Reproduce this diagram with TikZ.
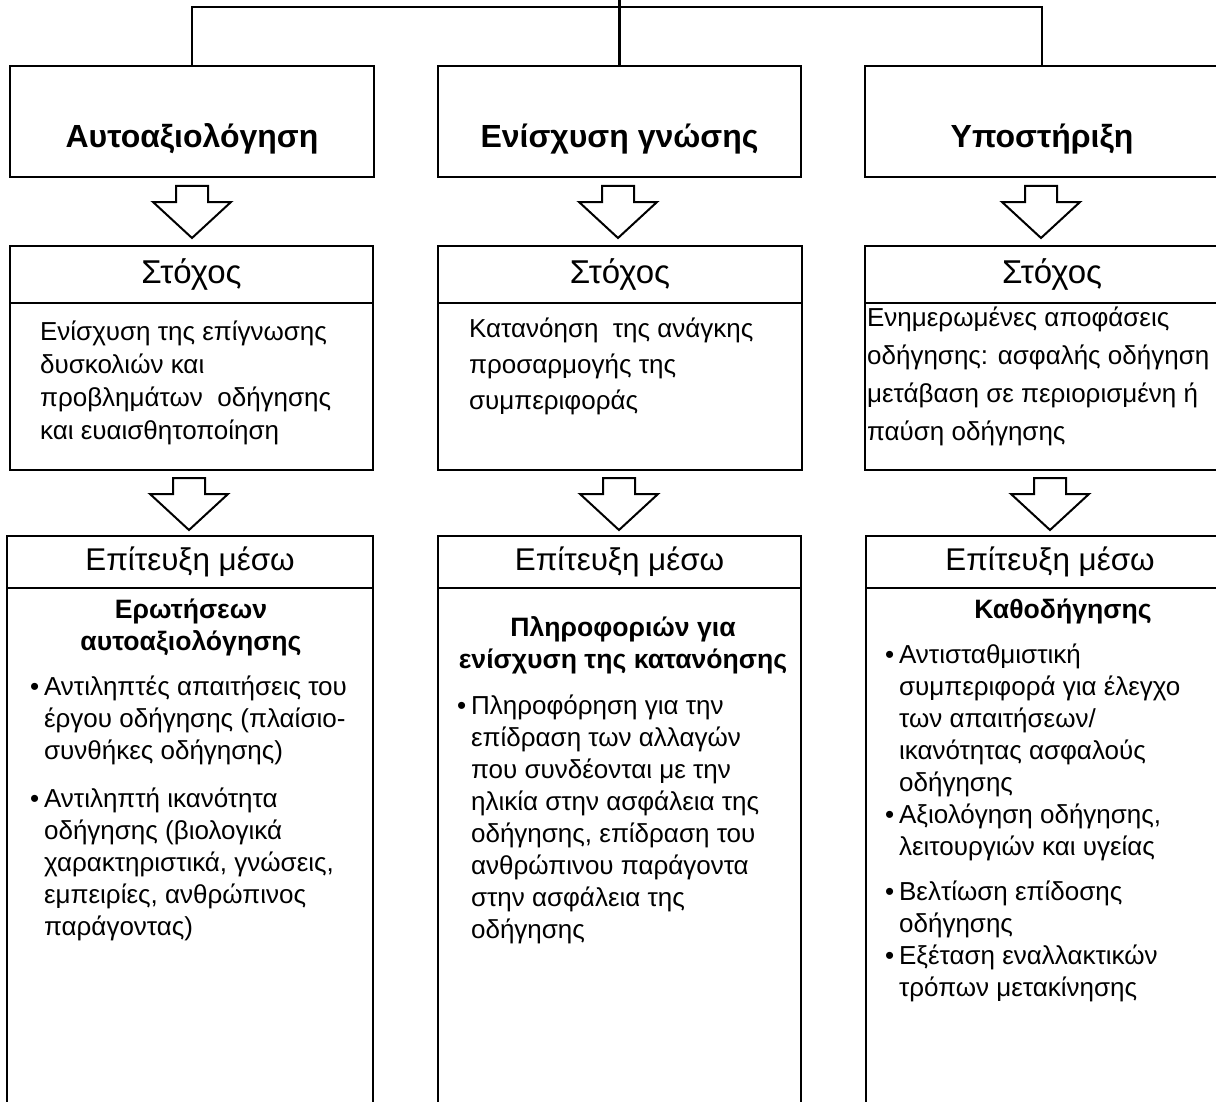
\documentclass[tikz,border=0pt]{standalone}
\usepackage{fontspec}
\setmainfont{Liberation Sans}
\usetikzlibrary{positioning}
\newcommand{\blt}{\makebox[7pt][l]{\textbullet}}
\newcommand{\ind}{\hspace*{7pt}}
\newcommand{\hollowarrow}[1]{\draw[hollow] (#1) ++(-16,0) -- ++(0,16) -- ++(-23,0) -- ++(39,36) -- ++(39,-36) -- ++(-23,0) -- ++(0,-16) -- cycle;}
\begin{document}
\begin{tikzpicture}[x=0.5pt,y=-0.5pt,line width=1.1pt,
	topbox/.style={draw,inner sep=0pt,outer sep=0pt,minimum height=55.5pt,text height=26.5pt,text depth=0pt,font=\fontsize{16}{19}\selectfont\bfseries},
	headbox/.style={draw,inner sep=0pt,outer sep=0pt},
	bodybox/.style={draw,inner sep=0pt,outer sep=0pt},
	goaltext/.style={inner sep=0pt,anchor=north west,align=left,font=\fontsize{13}{16.5}\selectfont},
	means/.style={inner sep=0pt,anchor=north,align=center,font=\fontsize{13.3}{16}\selectfont\bfseries},
	items/.style={inner sep=0pt,anchor=north west,align=left,font=\fontsize{13}{16}\selectfont},
	hollow/.style={draw,fill=white,line width=1pt,line join=miter}]
	\useasboundingbox (0,0) rectangle (1216,1102);
	\clip (0,0) rectangle (1216,1102);
	% top row
	\node[topbox,minimum width=182pt] (aut) at (192,121.5) {Αυτοαξιολόγηση};
	\node[topbox,minimum width=181.5pt] (gno) at (619.5,121.5) {Ενίσχυση γνώσης};
	\node[topbox,minimum width=177pt] (yps) at (1042,121.5) {Υποστήριξη};
	\coordinate (root) at (619.5,-20);
	\coordinate (hub) at (619.5,7);
	\draw (root) -- (root |- gno.north);
	\draw (aut.north) |- (hub) -| (yps.north);
	% goals
	\node[headbox,minimum width=181.5pt,minimum height=28.5pt,font=\fontsize{16.5}{19}\selectfont] (goal1) at (191.5,274.5) {Στόχος};
	\node[bodybox,minimum width=181.5pt,minimum height=83.5pt,below=0pt of goal1] (goal1b) {};
	\node[headbox,minimum width=182pt,minimum height=28.5pt,font=\fontsize{16.5}{19}\selectfont] (goal2) at (620,274.5) {Στόχος};
	\node[bodybox,minimum width=182pt,minimum height=83.5pt,below=0pt of goal2] (goal2b) {};
	\node[headbox,minimum width=187pt,minimum height=28.5pt,font=\fontsize{16.5}{19}\selectfont] (goal3) at (1052,274.5) {Στόχος};
	\node[bodybox,minimum width=187pt,minimum height=83.5pt,below=0pt of goal3] (goal3b) {};
	\node[goaltext] (goal1t) at (39,320) {Ενίσχυση της επίγνωσης\\δυσκολιών και\\προβλημάτων \ οδήγησης\\και ευαισθητοποίηση};
	\node[goaltext,font=\fontsize{13}{18}\selectfont] (goal2t) at (468,317) {Κατανόηση \ της ανάγκης\\προσαρμογής της\\συμπεριφοράς};
	\node[goaltext,font=\fontsize{13}{19}\selectfont] (goal3t) at (866,306) {Ενημερωμένες αποφάσεις\\οδήγησης: ασφαλής οδήγηση\\μετάβαση σε περιορισμένη ή\\παύση οδήγησης};
	% means
	\node[headbox,minimum width=183pt,minimum height=26pt,font=\fontsize{15.7}{19}\selectfont] (res1) at (190,562) {Επίτευξη μέσω};
	\node[bodybox,minimum width=183pt,minimum height=290pt,below=0pt of res1] (res1b) {};
	\node[headbox,minimum width=181.5pt,minimum height=26pt,font=\fontsize{15.7}{19}\selectfont] (res2) at (619.5,562) {Επίτευξη μέσω};
	\node[bodybox,minimum width=181.5pt,minimum height=290pt,below=0pt of res2] (res2b) {};
	\node[headbox,minimum width=184pt,minimum height=26pt,font=\fontsize{15.7}{19}\selectfont] (res3) at (1050,562) {Επίτευξη μέσω};
	\node[bodybox,minimum width=184pt,minimum height=290pt,below=0pt of res3] (res3b) {};
	\node[means] (how1) at (191,598) {Ερωτήσεων\\αυτοαξιολόγησης};
	\node[means] (how2) at (623,615) {Πληροφοριών για\\ενίσχυση της κατανόησης};
	\node[means] (how3) at (1063,598) {Καθοδήγησης};
	\node[items] (list1) at (29,675) {\blt Αντιληπτές απαιτήσεις του\\\ind έργου οδήγησης (πλαίσιο-\\\ind συνθήκες οδήγησης)\\[8pt]
		\blt Αντιληπτή ικανότητα\\\ind οδήγησης (βιολογικά\\\ind χαρακτηριστικά, γνώσεις,\\\ind εμπειρίες, ανθρώπινος\\\ind παράγοντας)};
	\node[items] (list2) at (456,694) {\blt Πληροφόρηση για την\\\ind επίδραση των αλλαγών\\\ind που συνδέονται με την\\\ind ηλικία στην ασφάλεια της\\\ind οδήγησης, επίδραση του\\\ind ανθρώπινου παράγοντα\\\ind στην ασφάλεια της\\\ind οδήγησης};
	\node[items] (list3) at (884,643) {\blt Αντισταθμιστική\\\ind συμπεριφορά για έλεγχο\\\ind των απαιτήσεων/\\\ind ικανότητας ασφαλούς\\\ind οδήγησης\\
		\blt Αξιολόγηση οδήγησης,\\\ind λειτουργιών και υγείας\\[6.5pt]
		\blt Βελτίωση επίδοσης\\\ind οδήγησης\\
		\blt Εξέταση εναλλακτικών\\\ind τρόπων μετακίνησης};
	% arrows
	\hollowarrow{192,186}
	\hollowarrow{618,186}
	\hollowarrow{1041,186}
	\hollowarrow{189,478}
	\hollowarrow{619,478}
	\hollowarrow{1050,478}
\end{tikzpicture}
\end{document}
